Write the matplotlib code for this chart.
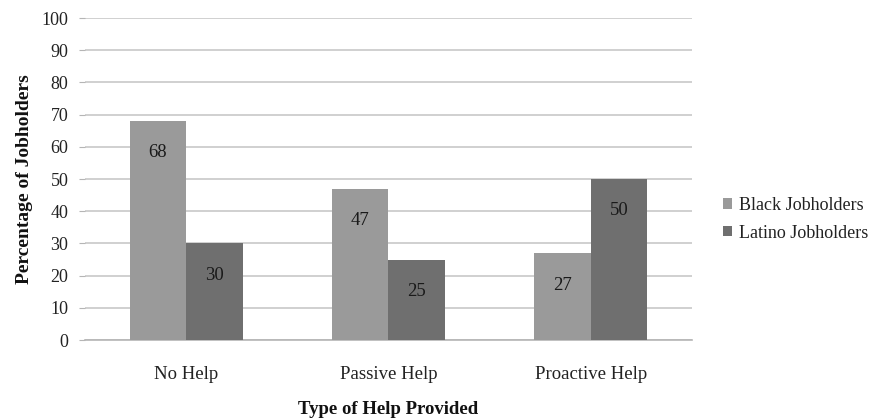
import matplotlib
matplotlib.use("Agg")
import matplotlib.pyplot as plt
import numpy as np

categories = ["No Help", "Passive Help", "Proactive Help"]
black_jobholders = [68, 47, 27]
latino_jobholders = [30, 25, 50]
series_names = ["Black Jobholders", "Latino Jobholders"]
y_ticks = [0, 10, 20, 30, 40, 50, 60, 70, 80, 90, 100]

plt.rcParams["font.family"] = ["Liberation Serif", "DejaVu Serif"]

fig = plt.figure(figsize=(8.72, 4.18), dpi=100)
ax = fig.add_axes([0.0975, 0.1866, 0.696, 0.7703])

x = np.arange(len(categories))
w = 0.28
colors = ["#9a9a9a", "#6f6f6f"]

bars_b = ax.bar(x - w / 2, black_jobholders, w, color=colors[0], label=series_names[0], zorder=3)
bars_l = ax.bar(x + w / 2, latino_jobholders, w, color=colors[1], label=series_names[1], zorder=3)

for bars, vals in ((bars_b, black_jobholders), (bars_l, latino_jobholders)):
    for b, v in zip(bars, vals):
        ax.annotate(str(v), (b.get_x() + b.get_width() / 2, v),
                    xytext=(0, -23), textcoords="offset points",
                    ha="center", va="center", fontsize=13.5, color="#1a1a1a", zorder=4)

ax.set_xlim(-0.5, 2.5)
ax.set_ylim(0, 100)
ax.set_yticks(y_ticks)
ax.set_xticks(x)
ax.set_xticklabels(categories)
ax.yaxis.grid(True, color="#c8c8c8", linewidth=1.2, zorder=0)
ax.set_axisbelow(True)

for s in ("top", "right", "left"):
    ax.spines[s].set_visible(False)
ax.spines["bottom"].set_color("#b5b5b5")
ax.spines["bottom"].set_linewidth(1.2)
ax.tick_params(axis="y", length=4, color="#b5b5b5", labelsize=13, labelcolor="#222222", pad=8)
ax.tick_params(axis="x", length=0, labelsize=13.5, labelcolor="#222222", pad=19)

ax.set_ylabel("Percentage of Jobholders", fontsize=14, fontweight="bold", color="#111111", labelpad=6)
ax.set_xlabel("Type of Help Provided", fontsize=13.5, fontweight="bold", color="#111111", labelpad=13)

leg = ax.legend(loc="center left", bbox_to_anchor=(1.025, 0.375), frameon=False,
                fontsize=13, handlelength=0.5, handleheight=0.5, handletextpad=0.35,
                labelspacing=0.6)
for t in leg.get_texts():
    t.set_color("#222222")

fig.savefig("out.png", dpi=100)
